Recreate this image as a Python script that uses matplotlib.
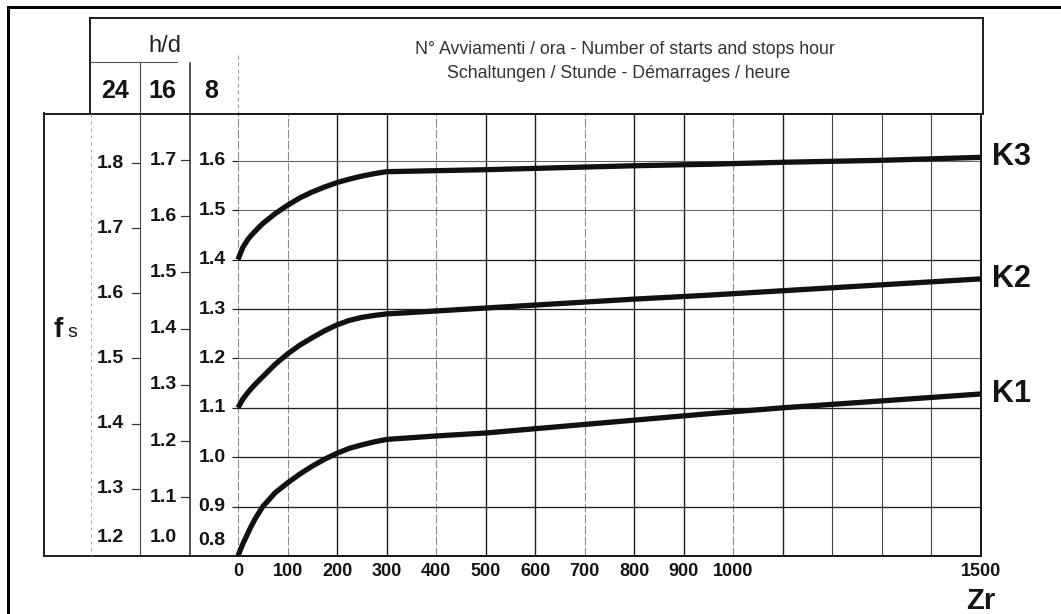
import matplotlib
matplotlib.use("Agg")
import matplotlib.pyplot as plt
from matplotlib import transforms

plt.rcParams['font.family'] = ['Liberation Sans', 'DejaVu Sans']

# ---------------- data ----------------
zr = [0, 5, 10, 20, 25, 35, 50, 75, 100, 125, 150, 175, 200, 225, 250, 275, 300,
      400, 500, 650, 800, 950, 1100, 1300, 1500]
k1 = [0.800, 0.813, 0.825, 0.846, 0.857, 0.876, 0.900, 0.928, 0.948, 0.966, 0.982, 0.996,
      1.008, 1.018, 1.025, 1.031, 1.036,
      1.043, 1.049, 1.062, 1.075, 1.088, 1.100, 1.114, 1.128]
k2 = [1.100, 1.109, 1.118, 1.131, 1.137, 1.148, 1.163, 1.188, 1.209, 1.227, 1.242, 1.256,
      1.268, 1.277, 1.283, 1.287, 1.290,
      1.296, 1.302, 1.311, 1.320, 1.328, 1.337, 1.349, 1.361]
k3 = [1.400, 1.413, 1.425, 1.441, 1.447, 1.458, 1.473, 1.493, 1.510, 1.525, 1.537, 1.547,
      1.556, 1.563, 1.569, 1.574, 1.578,
      1.580, 1.582, 1.586, 1.590, 1.593, 1.597, 1.601, 1.607]
curves = [k1, k2, k3]
curve_names = ["K1", "K2", "K3"]

x_ticks = [0, 100, 200, 300, 400, 500, 600, 700, 800, 900, 1000, 1500]
x_tick_labels = [str(v) for v in x_ticks]
grid_x = list(range(0, 1500, 100))

hours = ["24", "16", "8"]
fs_24 = [1.2, 1.3, 1.4, 1.5, 1.6, 1.7, 1.8]
fs_16 = [1.0, 1.1, 1.2, 1.3, 1.4, 1.5, 1.6, 1.7]
fs_8 = [0.8, 0.9, 1.0, 1.1, 1.2, 1.3, 1.4, 1.5, 1.6]

header_lines = ["N° Avviamenti / ora - Number of starts and stops hour",
                "Schaltungen / Stunde - Démarrages / heure"]


# scale relations (expressed on the 8 h/d scale used by the plot axis)
def from_24(v):
    return 0.805 + 1.316 * (v - 1.2)


def from_16(v):
    return 0.805 + 1.138 * (v - 1.0)


def from_8(v):
    return v


# ---------------- figure ----------------
W, H = 1061, 614
fig = plt.figure(figsize=(W / 100, H / 100), dpi=100)
fig.patch.set_facecolor('white')

bg = fig.add_axes([0, 0, 1, 1])
bg.set_xlim(0, W)
bg.set_ylim(H, 0)
bg.axis('off')

L, R, T, B = 238, 981, 114, 556
ax = fig.add_axes([L / W, 1 - B / H, (R - L) / W, (B - T) / H], facecolor='none')

ink = '#141414'
px = 0.72  # points per pixel

# outer frame
bg.plot([8, 8], [7, H + 10], color='black', lw=3 * px, solid_capstyle='projecting')
bg.plot([8, W + 10], [7, 7], color='black', lw=3 * px, solid_capstyle='projecting')

# header box
bg.plot([90, 983], [18, 18], color='#222', lw=2 * px)
bg.plot([90, 90], [18, 114], color='#222', lw=2 * px)
bg.plot([983, 983], [18, 114], color='#222', lw=2 * px)
bg.plot([90, 177], [62, 62], color='#555', lw=1.1 * px)
bg.plot([140, 140], [62, B], color='#444', lw=1.1 * px)
bg.plot([190, 190], [63, B], color='#222', lw=1.5 * px)
bg.plot([238, 238], [55, 114], color='#999', lw=1 * px, ls=(0, (4, 3)))
# left box
bg.plot([44, 44], [113, B], color='#222', lw=2 * px)
bg.plot([44, L], [113.5, 113.5], color='#222', lw=2 * px)
bg.plot([44, L], [B, B], color='#222', lw=2 * px)
bg.plot([91, 91], [114, B], color='#aaa', lw=1 * px, ls=(0, (3, 4)))

# header texts
bg.text(165, 52, "h/d", ha='center', va='baseline', fontsize=17, color='#222')
for h, xc in zip(hours, [115.5, 162, 211]):
    bg.text(xc, 98, h, ha='center', va='baseline', fontsize=18, fontweight='bold', color=ink)
bg.text(625, 49, header_lines[0], ha='center', va='center', fontsize=12.8, color='#333')
bg.text(619, 73, header_lines[1], ha='center', va='center', fontsize=12.8, color='#333')

# f_s label
bg.text(54, 337, "f", ha='left', va='baseline', fontsize=20, fontweight='bold', color=ink)
bg.text(67, 337, "s", ha='left', va='baseline', fontsize=14, color=ink)

# ---------------- main grid ----------------
dark_x = {200, 300, 500, 600, 800, 900, 1100}
mid_x = {1200, 1300, 1400}
for v in grid_x:
    if v in dark_x:
        ax.axvline(v, color='#1e1e1e', lw=1.4 * px, zorder=1)
    elif v in mid_x:
        ax.axvline(v, color='#444', lw=1.1 * px, zorder=1)
    else:
        ax.axvline(v, color='#8c8c8c', lw=1.1 * px, ls=(0, (8, 2)), zorder=1)

light_y = {1.2, 1.5, 1.6}
for v in fs_8[1:]:
    if v in light_y:
        ax.axhline(v, color='#666', lw=1.1 * px, zorder=1)
    else:
        ax.axhline(v, color='#1e1e1e', lw=1.3 * px, zorder=1)

# curves
for vals, name in zip(curves, curve_names):
    ax.plot(zr, vals, color='#111', lw=3.8, clip_on=False,
            solid_capstyle='butt', solid_joinstyle='round', zorder=3)
    ax.text(1500, vals[-1], name, transform=transforms.offset_copy(ax.transData, fig, x=8, units='points'),
            ha='left', va='center', fontsize=22, fontweight='bold', color=ink)

# spines
for s in ['top', 'right', 'bottom']:
    ax.spines[s].set_color('#1a1a1a')
    ax.spines[s].set_linewidth(2 * px)
ax.spines['left'].set_visible(False)

ax.set_xlim(0, 1500)
ax.set_ylim(0.8, 0.8 + (B - T) / 494)

ax.set_xticks(x_ticks, x_tick_labels)
ax.tick_params(axis='x', length=0, pad=5, labelsize=13)
for lab in ax.get_xticklabels():
    lab.set_fontweight('bold')
    lab.set_color(ink)
ax.set_yticks(fs_8[1:])
ax.tick_params(axis='y', length=4.3, width=1.2 * px, direction='out', color='#222', labelleft=False)

ax.set_xlabel("Zr", fontsize=21, fontweight='bold', color=ink)
ax.xaxis.set_label_coords(1.0, (B - 601) / (B - T))
ax.xaxis.label.set_va('center')

# ---------------- side scales ----------------
blend = transforms.blended_transform_factory(bg.transData, ax.transData)
raised = transforms.offset_copy(blend, fig, y=8, units='points')
scales = [(fs_24, from_24, 110, (132, 139)),
          (fs_16, from_16, 163, (181, 189)),
          (fs_8, from_8, 212, None)]
for vals, fn, xc, tick in scales:
    for i, v in enumerate(vals):
        y = fn(v)
        if i == 0:
            ax.text(xc, y, f"{v:.1f}", transform=raised, ha='center', va='baseline',
                    fontsize=14, fontweight='bold', color=ink)
        else:
            ax.text(xc, y, f"{v:.1f}", transform=blend, ha='center', va='center',
                    fontsize=14, fontweight='bold', color=ink)
            if tick is not None:
                ax.plot(list(tick), [y, y], transform=blend, color='#333', lw=1.2 * px, clip_on=False)

ax.set_xlim(0, 1500)
ax.set_ylim(0.8, 0.8 + (B - T) / 494)

fig.savefig("out.png", dpi=100)
